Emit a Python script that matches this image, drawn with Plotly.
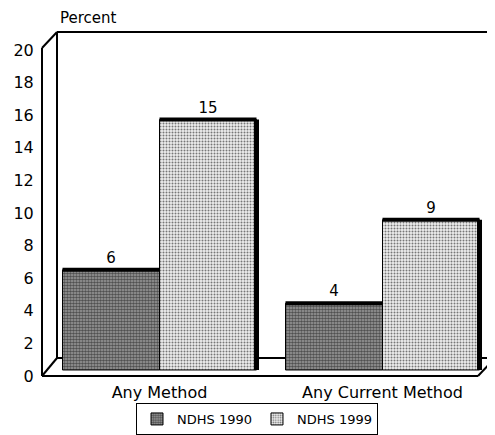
import plotly.graph_objects as go

categories = ["Any Method", "Any Current Method"]
ndhs_1990 = [6, 4]
ndhs_1999 = [15, 9]
series_names = ["NDHS 1990", "NDHS 1999"]
tick_vals = [0, 2, 4, 6, 8, 10, 12, 14, 16, 18, 20]

# page has an 8px body margin; lay out in page pixels and compensate
OFF = 8
W, H = 495 - OFF, 435 - OFF
PL, PR, PT, PB = 48, 494, 32, 376          # plot area in page pixels
ML, MR, MT, MB = PL - OFF, W - (PR - OFF), PT - OFF, H - (PB - OFF)
PW, PH = W - ML - MR, H - MT - MB
FONT = "DejaVu Sans, Liberation Sans, Arial, sans-serif"
FS = 16

def px(x):
    return (x - PL) / PW

def py(y):
    return (PB - y) / PH

BW = 0.435
fig = go.Figure()
fig.add_trace(go.Bar(
    x=[0, 1], y=ndhs_1990, name=series_names[0], width=BW, offset=-BW,
    marker=dict(color="#666", line=dict(color="black", width=1),
                pattern=dict(shape=".", fgcolor="#000", bgcolor="#a0a0a0", size=3, solidity=0.6)),
    text=[str(v) for v in ndhs_1990], textposition="outside",
    textfont=dict(size=15, color="black", family=FONT), cliponaxis=False,
))
fig.add_trace(go.Bar(
    x=[0, 1], y=ndhs_1999, name=series_names[1], width=BW, offset=0,
    marker=dict(color="#ddd", line=dict(color="black", width=1),
                pattern=dict(shape=".", fgcolor="#000", bgcolor="#eeeeee", size=3, solidity=0.35)),
    text=[str(v) for v in ndhs_1999], textposition="outside",
    textfont=dict(size=15, color="black", family=FONT), cliponaxis=False,
))
fig.add_trace(go.Scatter(x=[0, 1], y=[0, 0], yaxis="y2", mode="markers",
                         marker=dict(opacity=0), showlegend=False, hoverinfo="skip"))

shapes = []
line = dict(color="black", width=2)
# 3D frame (decoration), page pixels
frame = [
    ((42, 48), (42, 376)),
    ((42, 48), (57, 32)),
    ((57, 32), (495, 32)),
    ((57, 32), (57, 358)),
    ((42, 376), (57, 358)),
    ((57, 358), (495, 358)),
    ((42, 376), (478, 376)),
    ((478, 376), (494, 359)),
]
for (x0, y0), (x1, y1) in frame:
    shapes.append(dict(type="line", xref="paper", yref="paper", layer="below",
                       x0=px(x0), y0=py(y0), x1=px(x1), y1=py(y1), line=line))
# bar shadow edges derived from data
for i, v in enumerate(ndhs_1990):
    shapes.append(dict(type="line", xref="x", yref="y", x0=i - BW, x1=i, y0=v, y1=v,
                       line=dict(color="black", width=4)))
for i, v in enumerate(ndhs_1999):
    shapes.append(dict(type="line", xref="x", yref="y", x0=i, x1=i + BW, y0=v, y1=v,
                       line=dict(color="black", width=4)))
    shapes.append(dict(type="line", xref="x", yref="y", x0=i + BW, x1=i + BW, y0=0, y1=v,
                       line=dict(color="black", width=5)))

fig.update_layout(
    width=W, height=H,
    margin=dict(l=ML, r=MR, t=MT, b=MB, autoexpand=False),
    paper_bgcolor="white", plot_bgcolor="white",
    font=dict(family=FONT, size=FS, color="black"),
    barmode="overlay",
    xaxis=dict(range=[-0.5, 1.5], tickvals=[0, 1], ticktext=categories,
               showgrid=False, zeroline=False, showline=False, automargin=False,
               ticks="outside", ticklen=2, tickcolor="rgba(0,0,0,0)",
               tickfont=dict(size=FS)),
    yaxis=dict(range=[-0.36, 20.24], showticklabels=False, showgrid=False,
               zeroline=False, showline=False, automargin=False),
    yaxis2=dict(range=[0, 21.1], overlaying="y", side="left", tickvals=tick_vals,
                showgrid=False, zeroline=False, showline=False, automargin=False,
                ticks="outside", ticklen=10, tickcolor="rgba(0,0,0,0)",
                tickfont=dict(size=FS)),
    shapes=shapes,
    showlegend=True,
    legend=dict(orientation="h", x=px(257), xanchor="center", y=py(403), yanchor="top",
                bordercolor="black", borderwidth=1, font=dict(size=13),
                itemwidth=30, tracegroupgap=0),
    annotations=[dict(text="Percent", xref="paper", yref="paper", x=px(58), y=py(18),
                      xanchor="left", yanchor="middle", showarrow=False,
                      font=dict(size=15))],
)
fig.write_html("out.html")
